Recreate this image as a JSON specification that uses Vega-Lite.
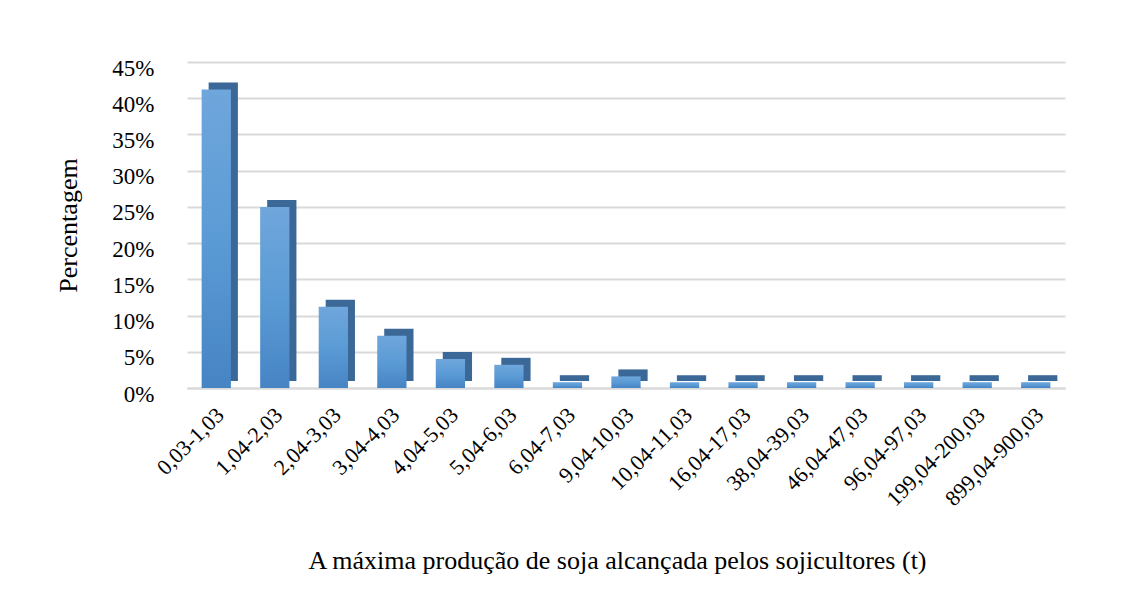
{
  "$schema": "https://vega.github.io/schema/vega-lite/v6.json",
  "autosize": {"type": "none"},
  "width": 878,
  "height": 326,
  "padding": {"left": 187, "top": 62, "right": 73, "bottom": 220},
  "background": "white",
  "config": {
    "font": "Liberation Serif",
    "view": {"stroke": null}
  },
  "data": {
    "values": [
      {"faixa": "0,03-1,03", "pct": 0.412},
      {"faixa": "1,04-2,03", "pct": 0.250},
      {"faixa": "2,04-3,03", "pct": 0.112},
      {"faixa": "3,04-4,03", "pct": 0.072},
      {"faixa": "4,04-5,03", "pct": 0.040},
      {"faixa": "5,04-6,03", "pct": 0.032},
      {"faixa": "6,04-7,03", "pct": 0.008},
      {"faixa": "9,04-10,03", "pct": 0.016},
      {"faixa": "10,04-11,03", "pct": 0.008},
      {"faixa": "16,04-17,03", "pct": 0.008},
      {"faixa": "38,04-39,03", "pct": 0.008},
      {"faixa": "46,04-47,03", "pct": 0.008},
      {"faixa": "96,04-97,03", "pct": 0.008},
      {"faixa": "199,04-200,03", "pct": 0.008},
      {"faixa": "899,04-900,03", "pct": 0.008}
    ]
  },
  "encoding": {
    "x": {
      "field": "faixa",
      "type": "nominal",
      "sort": null,
      "scale": {"paddingInner": 0.5, "paddingOuter": 0.25},
      "axis": {
        "title": "A máxima produção de soja alcançada pelos sojicultores (t)",
        "titleFont": "Liberation Serif",
        "titleFontSize": 26,
        "titleFontWeight": "normal",
        "titleColor": "#000000",
        "titlePadding": 38,
        "titleX": 430,
        "labelAngle": -45,
        "labelAlign": "right",
        "labelBaseline": "top",
        "labelFontSize": 22,
        "labelColor": "#000000",
        "labelPadding": 16,
        "labelOffset": -3,
        "ticks": false,
        "domain": true,
        "domainColor": "#d9d9d9",
        "domainWidth": 2,
        "grid": false
      }
    },
    "y": {
      "field": "pct",
      "type": "quantitative",
      "scale": {"domain": [0, 0.45], "nice": false},
      "axis": {
        "title": "Percentagem",
        "titleFont": "Liberation Serif",
        "titleFontSize": 26,
        "titleFontWeight": "normal",
        "titleColor": "#000000",
        "titlePadding": 30,
        "format": ".0%",
        "values": [0, 0.05, 0.1, 0.15, 0.2, 0.25, 0.3, 0.35, 0.4, 0.45],
        "labelFontSize": 23,
        "labelColor": "#000000",
        "labelPadding": 33,
        "labelOffset": 6,
        "ticks": false,
        "domain": false,
        "grid": true,
        "gridColor": "#d9d9d9",
        "gridWidth": 2
      }
    }
  },
  "layer": [
    {
      "mark": {"type": "bar", "xOffset": 7, "yOffset": -7, "color": "#3b6896"}
    },
    {
      "mark": {
        "type": "bar",
        "color": {
          "gradient": "linear",
          "x1": 0, "y1": 0, "x2": 0, "y2": 1,
          "stops": [
            {"offset": 0, "color": "#6fa6dc"},
            {"offset": 0.5, "color": "#5b9bd5"},
            {"offset": 1, "color": "#4684c4"}
          ]
        }
      }
    }
  ]
}
